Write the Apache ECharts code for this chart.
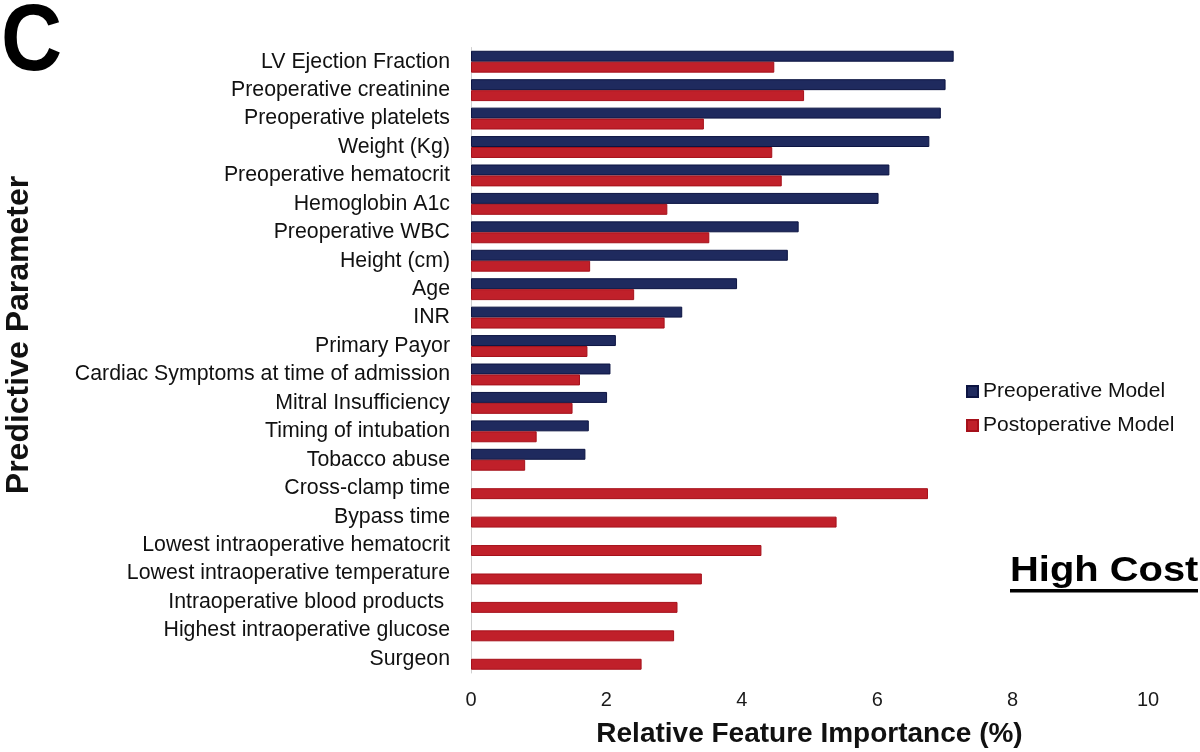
<!DOCTYPE html>
<html><head><meta charset="utf-8">
<script src="https://cdn.jsdelivr.net/npm/echarts@6/dist/echarts.min.js"></script>
<style>html,body{margin:0;padding:0;background:#fff}#c{width:1200px;height:752px}</style>
</head><body><div id="c"></div>
<script>
const categories = ["LV Ejection Fraction","Preoperative creatinine","Preoperative platelets","Weight (Kg)","Preoperative hematocrit","Hemoglobin A1c","Preoperative WBC","Height (cm)","Age","INR","Primary Payor","Cardiac Symptoms at time of admission","Mitral Insufficiency","Timing of intubation","Tobacco abuse","Cross-clamp time","Bypass time","Lowest intraoperative hematocrit","Lowest intraoperative temperature","Intraoperative blood products ","Highest intraoperative glucose","Surgeon"];
const preoperative = [7.13,7.01,6.94,6.77,6.18,6.02,4.84,4.68,3.93,3.12,2.14,2.06,2.01,1.74,1.69,null,null,null,null,null,null,null];
const postoperative = [4.48,4.92,3.44,4.45,4.59,2.90,3.52,1.76,2.41,2.86,1.72,1.61,1.50,0.97,0.80,6.75,5.40,4.29,3.41,3.05,3.00,2.52];
const xTicks = [0,2,4,6,8,10];

const chart = echarts.init(document.getElementById('c'));
const F = 'Liberation Sans, Arial, sans-serif';
chart.setOption({
  animation:false,
  backgroundColor:'#fff',
  textStyle:{fontFamily:F},
  grid:{left:471,right:52,top:47.5,bottom:79,containLabel:false,outerBoundsMode:'none'},
  legend:{
    orient:'vertical', left:961, top:376, itemWidth:11, itemHeight:11, itemGap:13,
    icon:'rect',
    textStyle:{fontSize:21,color:'#111',fontFamily:F},
    data:['Preoperative Model','Postoperative Model']
  },
  xAxis:{
    type:'value', min:xTicks[0], max:xTicks[xTicks.length-1], interval:2,
    axisLine:{show:false}, axisTick:{show:false}, splitLine:{show:false},
    axisLabel:{fontSize:20,color:'#1a1a1a',margin:17,fontFamily:F},
    name:'Relative Feature Importance (%)', nameLocation:'middle', nameGap:47,
    nameTextStyle:{fontSize:28,fontWeight:'bold',color:'#111',fontFamily:F}
  },
  yAxis:{
    type:'category', data:categories, inverse:true,
    axisLine:{show:true,lineStyle:{color:'#d0d0d0',width:1}}, axisTick:{show:false},
    axisLabel:{fontSize:21.3,color:'#111',margin:21,fontFamily:F}
  },
  series:[
    {name:'Preoperative Model', type:'bar', data:preoperative, barGap:'0%', barCategoryGap:'23%',
     itemStyle:{color:'#1f2a5e',borderColor:'#0c1442',borderWidth:1}},
    {name:'Postoperative Model', type:'bar', data:postoperative, barGap:'0%', barCategoryGap:'23%',
     itemStyle:{color:'#c0202a',borderColor:'#a5101a',borderWidth:1}}
  ],
  graphic:[
    {type:'text', x:1, y:44, scaleX:0.9, originX:0, style:{text:'C', font:'bold 94px '+F, fill:'#000', align:'left', verticalAlign:'middle'}},
    {type:'text', x:19, y:335, rotation:Math.PI/2, style:{text:'Predictive Parameter', font:'bold 32px '+F, fill:'#111', align:'center', verticalAlign:'middle'}},
    {type:'text', x:1010, y:571, scaleX:1.14, originX:0, style:{text:'High Cost', font:'bold 35px '+F, fill:'#000', align:'left', verticalAlign:'middle'}},
    {type:'rect', shape:{x:1010,y:589,width:188,height:3.5}, style:{fill:'#000'}}
  ]
});
</script></body></html>
